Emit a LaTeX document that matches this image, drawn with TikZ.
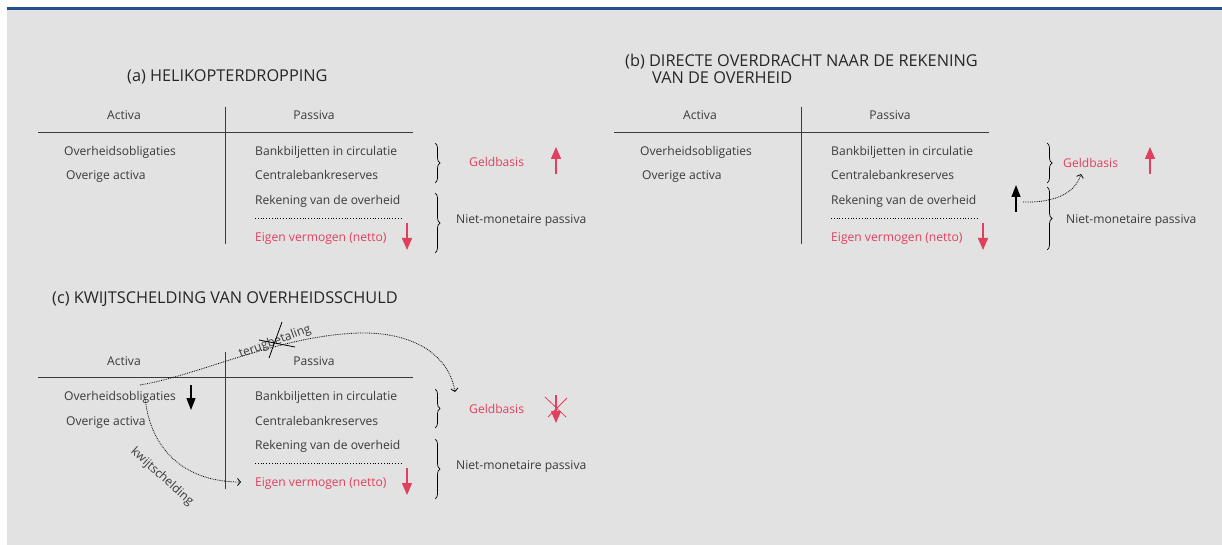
\documentclass[tikz,border=0pt]{standalone}
\usepackage{fontspec}
\setmainfont{Open Sans}
\usetikzlibrary{arrows.meta,decorations.pathreplacing}
\definecolor{bggray}{HTML}{E2E2E2}
\definecolor{topblue}{HTML}{22508E}
\definecolor{accent}{HTML}{E0405E}
\definecolor{ink}{HTML}{3A3A3A}
\tikzset{
  txt/.style={font=\fontsize{12.1}{14}\selectfont, text=ink, inner sep=0pt, anchor=base west},
  ctxt/.style={font=\fontsize{12.1}{14}\selectfont, text=ink, inner sep=0pt, anchor=base},
  rtxt/.style={font=\fontsize{12.1}{14}\selectfont, text=ink, inner sep=0pt},
  redtxt/.style={txt, text=accent},
  ttl/.style={font=\fontsize{16.3}{19}\selectfont, text=black!85, inner sep=0pt, anchor=base west},
  rule/.style={draw=ink, line width=0.9pt},
  sep/.style={draw=black, dotted, line width=0.8pt},
  redarrow/.style={draw=accent, line width=1.3pt, -{Triangle[length=12pt,width=10pt]}},
  blkarrow/.style={draw=black, line width=1.3pt, -{Triangle[length=12pt,width=9pt]}},
  cross/.style={draw=accent, line width=0.8pt},
  blkcross/.style={draw=black, line width=0.8pt},
  dotarrow/.style={draw=black, densely dotted, line width=0.8pt, -{Straight Barb[length=3pt,width=7pt]}},
  bracestyle/.style={draw=black, line width=0.7pt, decorate, decoration={brace, amplitude=5pt}},
}
\newcommand\balancetable{%
  \node[ctxt] (act) at (124,120) {Activa};
  \node[ctxt] (pas) at (314,120) {Passiva};
  \coordinate (hl) at (38,132); \coordinate (hr) at (413,132);
  \coordinate (vt) at (225,107); \coordinate (vb) at (225,244);
  \draw[rule] (hl) -- (hr);
  \draw[rule] (vt) -- (vb);
  \node[txt] (obl) at (64,155.5) {Overheidsobligaties};
  \node[txt] (ova) at (66,180) {Overige activa};
  \node[txt] (bank) at (255,155.5) {Bankbiljetten in circulatie};
  \node[txt] (cbr) at (255,180) {Centralebankreserves};
  \node[txt] (rek) at (255,204.5) {Rekening van de overheid};
  \coordinate (sl) at (255,218); \coordinate (sr) at (402,218);
  \draw[sep] (sl) -- (sr);
  \node[redtxt] (eig) at (255,241) {Eigen vermogen (netto)};
  \coordinate (eas) at (407,223); \coordinate (eae) at (407,250);
  \draw[redarrow] (eas) -- (eae);
}
\begin{document}
\begin{tikzpicture}[x=1pt,y=-1pt]
\useasboundingbox (0,0) rectangle (1222,545);
\fill[bggray] (7,10) rectangle (1222,545);
\draw[topblue, line width=2.5pt] (7,8.75) -- (1222,8.75);

% ---------- (a)
\begin{scope}[name prefix=a-]
\node[ttl] (title) at (127,81.5) {(a) HELIKOPTERDROPPING};
\balancetable
\coordinate (b1t) at (435,143); \coordinate (b1b) at (435,183);
\coordinate (b2t) at (435,193); \coordinate (b2b) at (435,253);
\draw[bracestyle] (b1t) -- (b1b);
\draw[bracestyle] (b2t) -- (b2b);
\node[redtxt] (geld) at (469,166.5) {Geldbasis};
\node[txt] (niet) at (456,223.3) {Niet-monetaire passiva};
\coordinate (gas) at (556,174); \coordinate (gae) at (556,147);
\draw[redarrow] (gas) -- (gae);
\end{scope}

% ---------- (b)
\begin{scope}[shift={(576,0)}, name prefix=b-]
\node[ttl] (title) at (49,66.5) {(b) DIRECTE OVERDRACHT NAAR DE REKENING};
\node[ttl] (title2) at (76,83.3) {VAN DE OVERHEID};
\balancetable
\end{scope}
\begin{scope}[name prefix=b-]
\coordinate (b1t) at (1047,143); \coordinate (b1b) at (1047,183);
\coordinate (b2t) at (1047,187); \coordinate (b2b) at (1047,250);
\draw[bracestyle] (b1t) -- (b1b);
\draw[bracestyle] (b2t) -- (b2b);
\node[redtxt] (geld) at (1063,167.3) {Geldbasis};
\node[txt] (niet) at (1066,223.3) {Niet-monetaire passiva};
\coordinate (gas) at (1150,174); \coordinate (gae) at (1150,147);
\draw[redarrow] (gas) -- (gae);
\coordinate (kas) at (1016,212); \coordinate (kae) at (1016,185);
\draw[blkarrow] (kas) -- (kae);
\coordinate (ds) at (1023,202); \coordinate (de) at (1081,174);
\draw[dotarrow] (ds) .. controls (1060,203) and (1076,190) .. (de);
\end{scope}

% ---------- (c)
\begin{scope}[shift={(0,245)}, name prefix=c-]
\node[ttl] (title) at (52,58.3) {(c) KWIJTSCHELDING VAN OVERHEIDSSCHULD};
\balancetable
\coordinate (b1t) at (435,144); \coordinate (b1b) at (435,183);
\coordinate (b2t) at (435,194); \coordinate (b2b) at (435,254);
\draw[bracestyle] (b1t) -- (b1b);
\draw[bracestyle] (b2t) -- (b2b);
\node[redtxt] (geld) at (469,168.3) {Geldbasis};
\node[txt] (niet) at (456,224) {Niet-monetaire passiva};
% crossed-out red arrow
\coordinate (gas) at (556,150); \coordinate (gae) at (556,178);
\draw[redarrow] (gas) -- (gae);
\coordinate (x1a) at (545,152); \coordinate (x1b) at (566,172);
\coordinate (x2a) at (567,153); \coordinate (x2b) at (548,172);
\draw[cross] (x1a) -- (x1b);
\draw[cross] (x2a) -- (x2b);
% black down arrow
\coordinate (oas) at (191,140); \coordinate (oae) at (191,165);
\draw[blkarrow] (oas) -- (oae);
% terugbetaling
\coordinate (ts) at (140,140); \coordinate (te) at (455,147);
\draw[dotarrow] (ts) .. controls (200,130) and (280,90) .. (360,88) .. controls (420,87) and (450,115) .. (te);
\node[rtxt, rotate=20] (terug) at (275,97) {terugbetaling};
\coordinate (y1a) at (282,77); \coordinate (y1b) at (269,113);
\coordinate (y2a) at (259,95); \coordinate (y2b) at (295,102);
\draw[blkcross] (y1a) -- (y1b);
\draw[blkcross] (y2a) -- (y2b);
% kwijtschelding
\coordinate (ks) at (145,152); \coordinate (ke) at (241,237);
\draw[dotarrow] (ks) .. controls (150,205) and (185,237) .. (ke);
\node[rtxt, rotate=-42] (kwijt) at (162,232) {kwijtschelding};
\end{scope}
\end{tikzpicture}
\end{document}
